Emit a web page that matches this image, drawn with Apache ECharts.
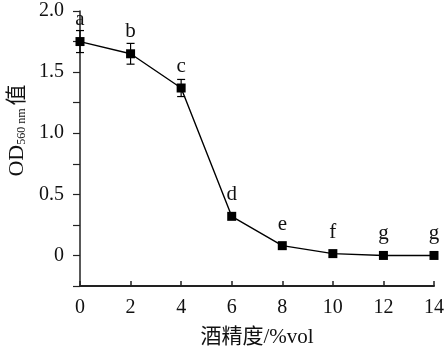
<!DOCTYPE html>
<html><head><meta charset="utf-8">
<script src="https://cdn.jsdelivr.net/npm/echarts@6/dist/echarts.min.js"></script>
<style>html,body{margin:0;padding:0;background:#fff}#c{width:446px;height:359px}</style>
</head><body><div id="c"></div>
<script>
const alcohol = [0, 2, 4, 6, 8, 10, 12, 14];
const od = [1.75, 1.65, 1.37, 0.32, 0.08, 0.015, 0, 0];
const err = [0.09, 0.085, 0.07, 0, 0, 0, 0, 0];
const letters = ['a', 'b', 'c', 'd', 'e', 'f', 'g', 'g'];
const yLabels = ['0', '0.5', '1.0', '1.5', '2.0'];

const FONT = '"Liberation Serif","Times New Roman","Noto Sans CJK SC",serif';
const chart = echarts.init(document.getElementById('c'));
const pts = alcohol.map((x, i) => [x, od[i], err[i], letters[i]]);

chart.setOption({
  animation: false,
  grid: { left: 80, right: 12, top: 11, bottom: 73, containLabel: false, outerBoundsMode: 'none' },
  xAxis: {
    type: 'value', min: 0, max: 14, interval: 2,
    name: '酒精度/%vol', nameLocation: 'middle', nameGap: 41,
    nameTextStyle: { fontFamily: FONT, fontSize: 21, color: '#111' },
    axisLine: { onZero: false, lineStyle: { color: '#222', width: 2 } },
    axisTick: { inside: true, length: 5, lineStyle: { color: '#222', width: 1.5 } },
    axisLabel: { fontFamily: FONT, fontSize: 20, color: '#111', margin: 12 },
    splitLine: { show: false }
  },
  yAxis: {
    type: 'value', min: -0.25, max: 2.0, interval: 0.25,
    name: '{a|OD}{b|560 nm}{c|值}', nameLocation: 'middle', nameGap: 50,
    nameTextStyle: {
      padding: [0, 0, 0, 36],
      rich: {
        a: { fontFamily: FONT, fontSize: 22, color: '#111', verticalAlign: 'bottom' },
        b: { fontFamily: FONT, fontSize: 12, color: '#111', verticalAlign: 'bottom', padding: [0, 3, 0, 0] },
        c: { fontFamily: FONT, fontSize: 21, color: '#111', verticalAlign: 'bottom' }
      }
    },
    axisLine: { show: true, onZero: false, lineStyle: { color: '#222', width: 1.5 } },
    axisTick: { show: true, length: 7, lineStyle: { color: '#222', width: 1.2 } },
    axisLabel: {
      fontFamily: FONT, fontSize: 20, color: '#111', margin: 16,
      formatter: v => {
        const k = Math.round(v / 0.5);
        if (Math.abs(v - k * 0.5) > 1e-6 || k < 0) return '';
        return yLabels[k];
      }
    },
    splitLine: { show: false }
  },
  series: [
    {
      type: 'line', data: pts.map(p => [p[0], p[1]]),
      symbol: 'rect', symbolSize: 9,
      lineStyle: { color: '#000', width: 1.4 },
      itemStyle: { color: '#000' }, z: 3
    },
    {
      type: 'custom', data: pts, z: 4,
      renderItem: (params, api) => {
        const x = api.value(0), y = api.value(1), e = api.value(2);
        const letter = letters[params.dataIndex];
        const pc = api.coord([x, y]);
        const children = [];
        let topPx = pc[1] - 11;
        if (e > 0) {
          const t = api.coord([x, y + e]), b = api.coord([x, y - e]);
          const st = { stroke: '#000', lineWidth: 1.2 };
          children.push({ type: 'line', shape: { x1: pc[0], y1: t[1], x2: pc[0], y2: b[1] }, style: st });
          children.push({ type: 'line', shape: { x1: pc[0] - 4, y1: t[1], x2: pc[0] + 4, y2: t[1] }, style: st });
          children.push({ type: 'line', shape: { x1: pc[0] - 4, y1: b[1], x2: pc[0] + 4, y2: b[1] }, style: st });
          topPx = Math.min(topPx, t[1] - 1);
        }
        children.push({
          type: 'text', x: pc[0], y: topPx,
          style: { text: letter, font: '21px ' + FONT, fill: '#111', align: 'center', verticalAlign: 'bottom' }
        });
        return { type: 'group', children };
      }
    }
  ]
});
</script></body></html>
